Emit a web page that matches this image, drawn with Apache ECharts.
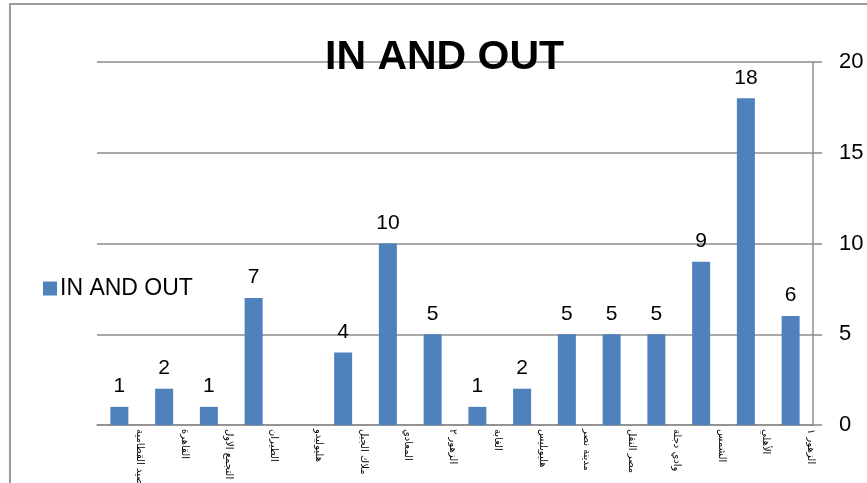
<!DOCTYPE html>
<html>
<head>
<meta charset="utf-8">
<script src="https://cdn.jsdelivr.net/npm/echarts@6/dist/echarts.min.js"></script>
<style>
  html, body { margin: 0; padding: 0; background: #fff; }
  #chart { width: 867px; height: 483px; }
</style>
</head>
<body>
<div id="chart"></div>
<script>
const categories = [
  'صيد القطامية', 'القاهرة', 'برج التجمع الاول', 'الطيران', 'هليوليدو',
  'ملاك الجبل', 'المعادي', 'الزهور ٢', 'الغابة', 'هليوبليس',
  'مدينة نصر', 'مصر النقل', 'وادي دجلة', 'الشمس', 'الأهلي', 'الزهور ١'
];
const inAndOut = [1, 2, 1, 7, 0, 4, 10, 5, 1, 2, 5, 5, 5, 9, 18, 6];
const yTicks = [0, 5, 10, 15, 20];

const gray = '#8c8c8c';
const chart = echarts.init(document.getElementById('chart'));

const option = {
  animation: false,
  textStyle: { fontFamily: 'Liberation Sans, Arial, sans-serif' },
  graphic: [{
    type: 'rect',
    shape: { x: 10, y: 4, width: 900, height: 600 },
    style: { fill: 'none', stroke: '#9a9a9a', lineWidth: 2 },
    silent: true
  }],
  title: {
    text: 'IN AND OUT',
    left: 320,
    top: 32,
    textStyle: { fontSize: 41, fontWeight: 'bold', color: '#000' }
  },
  legend: {
    data: ['IN AND OUT'],
    orient: 'vertical',
    left: 38,
    top: 272,
    icon: 'rect',
    itemWidth: 14,
    itemHeight: 14,
    itemGap: 8,
    textStyle: { fontSize: 23, color: '#000', padding: [0, 0, 0, -2] }
  },
  grid: { left: 97, right: 54, top: 62, bottom: 58, outerBoundsMode: 'none', containLabel: false },
  xAxis: {
    type: 'category',
    data: categories,
    axisLine: { lineStyle: { color: gray, width: 1.5 } },
    axisTick: { show: false },
    axisLabel: {
      interval: 0,
      rotate: -90,
      fontSize: 10,
      color: '#000',
      margin: 4,
      verticalAlign: 'bottom',
      padding: [0, 0, 15, 0],
      fontFamily: 'DejaVu Sans, sans-serif'
    }
  },
  yAxis: {
    type: 'value',
    position: 'right',
    min: yTicks[0],
    max: yTicks[yTicks.length - 1],
    interval: yTicks[1] - yTicks[0],
    axisLine: { show: true, lineStyle: { color: gray, width: 1.5 } },
    axisTick: { show: true, inside: false, length: 9, lineStyle: { color: gray, width: 1.5 } },
    axisLabel: { fontSize: 22, color: '#000', margin: 26 },
    splitLine: { lineStyle: { color: gray, width: 1.5 } }
  },
  series: [{
    name: 'IN AND OUT',
    type: 'bar',
    barWidth: 18,
    data: inAndOut,
    itemStyle: { color: '#4f81bd' },
    label: {
      show: true,
      position: 'top',
      distance: 10,
      fontSize: 21,
      color: '#000',
      formatter: (p) => (p.value === 0 ? '' : p.value)
    }
  }]
};

chart.setOption(option);
</script>
</body>
</html>
